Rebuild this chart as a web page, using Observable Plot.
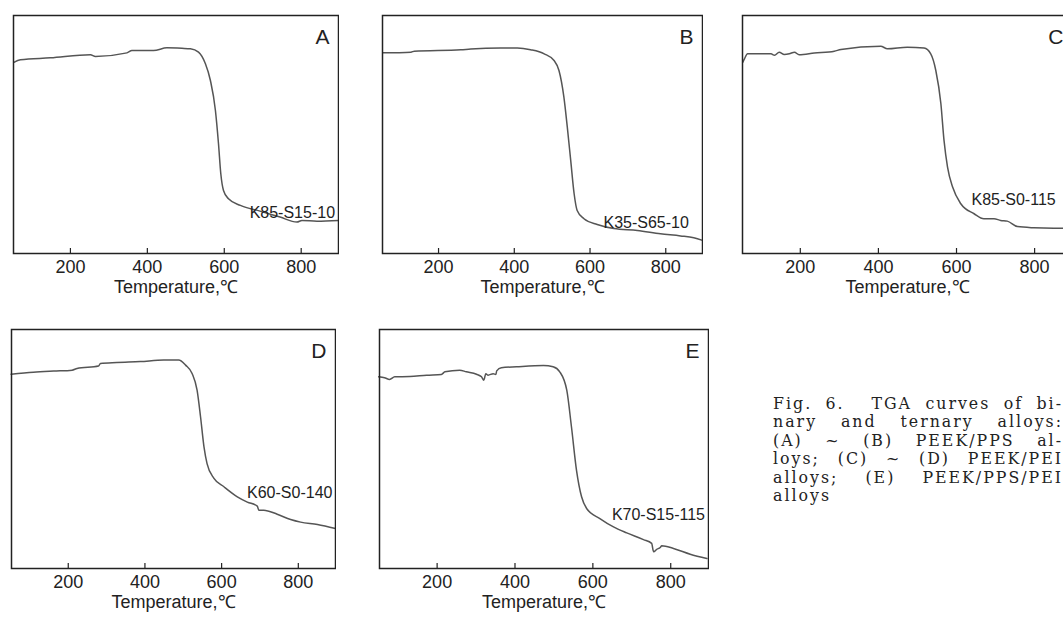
<!DOCTYPE html>
<html>
<head>
<meta charset="utf-8">
<script src="https://cdn.jsdelivr.net/npm/d3@7"></script>
<script src="https://cdn.jsdelivr.net/npm/@observablehq/plot@0.6"></script>
<style>
  html, body { margin: 0; padding: 0; background: #fff; }
  body { width: 1063px; height: 617px; position: relative; overflow: hidden; }
  .panel { position: absolute; }
  svg.panel, svg.panel text { font-family: "Liberation Sans", Arial, sans-serif !important; }
  .caption { position: absolute; left: 773px; top: 395px; font-family: "DejaVu Serif", serif; font-size: 15.8px; letter-spacing: 2px; line-height: 18.4px; color: #222; }
  .caption div { white-space: nowrap; }
  .caption .j { width: 290px; text-align: justify; text-align-last: justify; white-space: normal; }
</style>
</head>
<body>
<div id="root"></div>
<div class="caption" id="caption"></div>
<script>
// ---- Data ----
const xTicks = [200, 400, 600, 800];
const xLabel = "Temperature,℃";

const panelLetters = ["A", "B", "C", "D", "E"];
const sampleNames = ["K85-S15-10", "K35-S65-10", "K85-S0-115", "K60-S0-140", "K70-S15-115"];

// Panel A: K85-S15-10
const tempA = [53,70,148,252,265,347,360,416,451,490,512,533,551,564,577,585,591,598,611,642,693,745,789,802,841,897];
const massA = [80.3,81.4,82.2,83.5,82.8,84.3,85.3,85.3,86.4,86.2,86.0,84.6,79.7,72.7,60.1,46.1,33.5,26.5,23.0,20.2,17.8,15.3,13.2,13.9,13.6,13.9];

// Panel B: K35-S65-10
const tempB = [53,127,136,259,285,364,408,443,479,505,518,531,540,549,558,566,584,619,663,725,786,839,874,897];
const massB = [84.3,84.6,85.0,85.6,85.9,86.3,86.3,85.6,83.9,81.1,76.9,65.7,53.1,39.1,25.1,18.1,14.6,12.2,10.5,9.7,8.3,7.4,6.6,5.5];

// Panel C: K85-S0-115
const tempC = [53,57,65,125,134,146,159,172,185,197,236,287,304,406,423,474,517,534,547,560,568,577,590,611,645,670,696,713,730,756,798,849,897];
const massC = [80.4,81.8,83.9,83.9,83.3,84.6,83.6,83.9,84.6,83.5,84.2,85.0,85.7,87.1,86.0,86.7,86.3,83.9,76.9,62.9,47.5,36.3,27.9,20.9,16.7,14.6,14.6,13.9,13.6,11.3,10.8,10.6,10.7];

// Panel D: K60-S0-140
const tempD = [51,109,162,210,223,279,284,327,388,449,488,506,523,536,545,554,562,580,606,641,667,693,697,710,745,780,806,850,897];
const massD = [81.3,82.1,82.6,83.0,83.7,84.7,85.8,86.2,86.6,87.2,87.2,85.1,81.6,74.6,63.5,50.9,43.9,37.7,34.2,30.0,27.8,26.1,24.4,24.4,22.7,20.5,19.4,18.4,16.7];

// Panel E: K70-S15-115
const tempE = [50,65,78,91,130,173,211,220,258,275,301,314,320,325,331,344,351,353,365,404,473,498,515,533,545,558,571,584,618,653,687,730,751,756,764,773,777,807,850,893];
const massE = [80.2,79.8,79.1,80.2,80.3,80.9,81.2,82.3,83.0,82.3,81.3,80.2,78.8,81.5,80.9,81.5,81.2,82.7,84.0,84.4,84.9,84.4,82.3,74.6,59.3,41.1,30.0,25.1,20.9,17.4,14.9,12.1,10.5,7.0,8.0,8.8,9.5,8.4,6.0,4.2];

// Sample-name annotation anchor (temperature, mass)
const nameTemp = [888, 861, 854, 889, 888];
const nameMass = [15.0, 10.6, 20.2, 29.6, 20.5];

const captionLines = [
  "Fig. 6.&nbsp; TGA curves of bi-",
  "nary and ternary alloys:",
  "(A) ~ (B) PEEK/PPS al-",
  "loys; (C) ~ (D) PEEK/PEI",
  "alloys; (E) PEEK/PPS/PEI",
  "alloys"
];

// ---- Layout (frame boxes in page pixels) ----
const layout = [
  {left: 13,  top: 15,  width: 325, height: 238},
  {left: 382, top: 15,  width: 320, height: 238},
  {left: 742, top: 15,  width: 330, height: 238},
  {left: 11,  top: 329, width: 324, height: 239},
  {left: 379, top: 329, width: 329, height: 239}
];
const xDomain = [52, 897];
const yDomain = [0, 100];

const series = [
  [tempA, massA], [tempB, massB], [tempC, massC], [tempD, massD], [tempE, massE]
];

const root = document.getElementById("root");
const M = {top: 1, right: 1, bottom: 52, left: 1};

series.forEach(([temps, mass], i) => {
  const data = temps.map((t, k) => ({t, m: mass[k]}));
  const L = layout[i];
  const chart = Plot.plot({
    width: L.width + M.left + M.right,
    height: L.height + M.top + M.bottom,
    marginTop: M.top, marginRight: M.right, marginBottom: M.bottom, marginLeft: M.left,
    style: {fontFamily: "Liberation Sans, Arial, sans-serif", color: "#222", background: "transparent"},
    x: {domain: xDomain},
    y: {domain: yDomain, axis: null},
    marks: [
      Plot.line(data, {x: "t", y: "m", stroke: "#555", strokeWidth: 1.5, curve: "monotone-x"}),
      Plot.frame({stroke: "#222", strokeWidth: 1.5}),
      Plot.axisX({ticks: xTicks, tickSize: -5, tickPadding: 12, fontSize: 18, stroke: "#222", strokeWidth: 1.2, label: null}),
      Plot.text([xLabel], {frameAnchor: "bottom", dy: 39, lineAnchor: "bottom", fontSize: 18, fill: "#222"}),
      Plot.text([panelLetters[i]], {frameAnchor: "top-right", dx: -9, dy: 28, lineAnchor: "bottom", fontSize: 21, fill: "#222"}),
      Plot.text([sampleNames[i]], {x: [nameTemp[i]], y: [nameMass[i]], textAnchor: "end", lineAnchor: "bottom", fontSize: 16, fill: "#222"})
    ]
  });
  chart.classList.add("panel");
  chart.style.left = (L.left - M.left) + "px";
  chart.style.top = (L.top - M.top) + "px";
  root.appendChild(chart);
});

const cap = document.getElementById("caption");
captionLines.forEach((line, i) => {
  const d = document.createElement("div");
  d.innerHTML = line;
  if (i <= 4) d.className = "j";
  cap.appendChild(d);
});
</script>
</body>
</html>
